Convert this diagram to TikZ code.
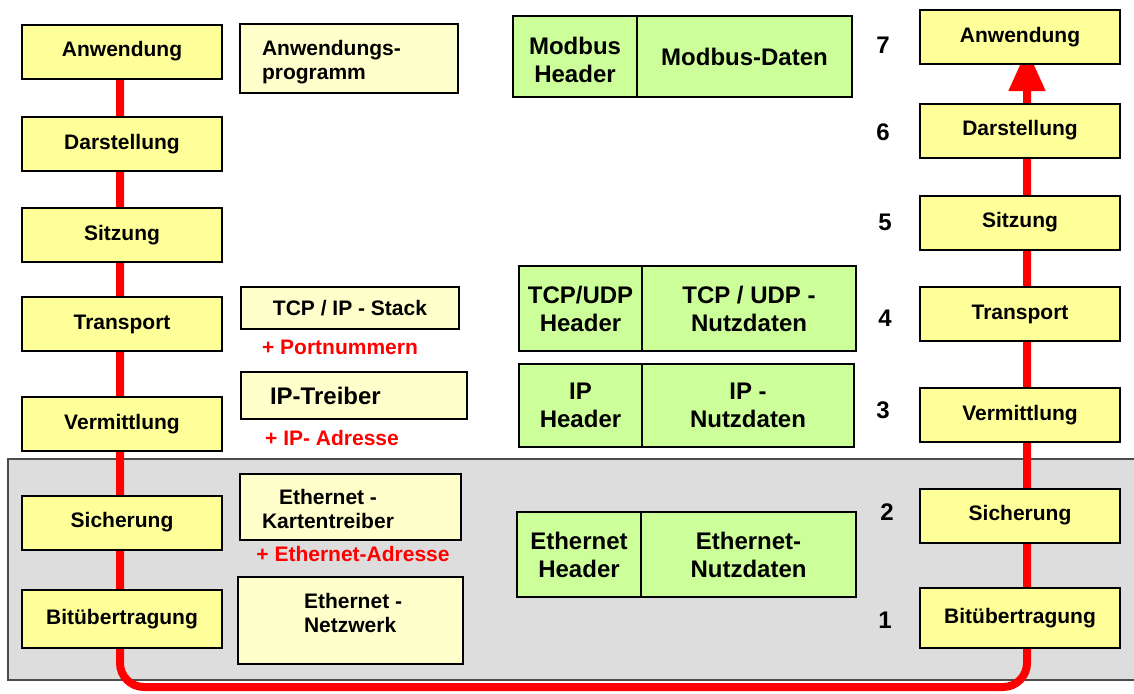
\documentclass[tikz,border=0pt]{standalone}
\usepackage{fontspec}
\setmainfont{Liberation Sans}
\usetikzlibrary{arrows.meta}

\definecolor{layeryellow}{HTML}{FFFF99}
\definecolor{progyellow}{HTML}{FFFFCC}
\definecolor{datgreen}{HTML}{CCFF99}
\definecolor{bggray}{HTML}{DDDDDD}

\pgfdeclarelayer{back}
\pgfdeclarelayer{mid}
\pgfsetlayers{back,mid,main}

\begin{document}
\begin{tikzpicture}[x=0.5pt,y=-0.5pt,
    every node/.style={align=center,font=\bfseries\fontsize{10.5}{12}\selectfont},
    layer/.style={draw,fill=layeryellow,line width=1pt,minimum width=100pt,minimum height=27pt},
    progbox/.style={draw,fill=progyellow,line width=0.9pt},
    datbox/.style={draw,fill=datgreen,line width=0.9pt},
    bigtxt/.style={font=\bfseries\fontsize{12}{14}\selectfont},
    addr/.style={text=red},
    redline/.style={draw=red,line width=4pt,rounded corners=12pt}]
             \useasboundingbox (0,0) rectangle (1134,693);
             \begin{pgfonlayer}{back}
             \draw[fill=bggray,draw=black!70,line width=0.8pt] (8,459) rectangle (1140,680);
             \end{pgfonlayer}

             \node[layer] (lanw) at (122,051.5) {Anwendung};
             \node[layer] (ldar) at (122,144.0) {Darstellung};
             \node[layer] (lsit) at (122,235.0) {Sitzung};
             \node[layer] (ltra) at (122,324.0) {Transport};
             \node[layer] (lver) at (122,424.0) {Vermittlung};
             \node[layer] (lsic) at (122,522.5) {Sicherung};
             \node[layer,minimum height=29pt] (lbit) at (122,619.0) {Bitübertragung};

             \node[layer] (ranw) at (1020,037.0) {Anwendung};
             \node[layer] (rdar) at (1020,130.5) {Darstellung};
             \node[layer] (rsit) at (1020,222.5) {Sitzung};
             \node[layer] (rtra) at (1020,314.0) {Transport};
             \node[layer] (rver) at (1020,415.0) {Vermittlung};
             \node[layer] (rsic) at (1020,515.5) {Sicherung};
             \node[layer,minimum height=30pt] (rbit) at (1020,618.0) {Bitübertragung};

             \node[bigtxt] (n7) at (883,045) {7};
             \node[bigtxt] (n6) at (883,132) {6};
             \node[bigtxt] (n5) at (885,222) {5};
             \node[bigtxt] (n4) at (885,318) {4};
             \node[bigtxt] (n3) at (883,410) {3};
             \node[bigtxt] (n2) at (887,512) {2};
             \node[bigtxt] (n1) at (885,620) {1};

             \draw[progbox] (240,024) rectangle (458,093);
             \node[anchor=west,align=left] (anwprog) at (255,062) {Anwendungs-\\programm};
             \draw[progbox] (241,287) rectangle (459,329) node[pos=0.5] (tcpstack) {TCP / IP - Stack};
             \node[addr] (port) at (340,347) {+ Portnummern};
             \draw[progbox] (241,372) rectangle (467,419);
             \node[bigtxt,anchor=west] (iptreib) at (263,396) {IP-Treiber};
             \node[addr] (ipadr) at (332,438) {+ IP- Adresse};
             \draw[progbox] (240,474) rectangle (461,540);
             \node (karte) at (328,509) {Ethernet -\\Kartentreiber};
             \node[addr] (ethadr) at (353,554) {+ Ethernet-Adresse};
             \draw[progbox] (238,577) rectangle (463,664);
             \node[anchor=west,align=left] (netz) at (297,613) {Ethernet -\\Netzwerk};

             \draw[datbox] (513,016) rectangle (637,097) node[pos=0.5,bigtxt,yshift=-1.5pt] (modhdr) {Modbus\\Header};
             \draw[datbox] (637,016) rectangle (852,097) node[pos=0.5,bigtxt] (moddat) {Modbus-Daten};
             \draw[datbox] (519,266) rectangle (642,351) node[pos=0.5,bigtxt] (tcphdr) {TCP/UDP\\Header};
             \draw[datbox] (642,266) rectangle (856,351) node[pos=0.5,bigtxt] (tcpdat) {TCP / UDP -\\Nutzdaten};
             \draw[datbox] (519,364) rectangle (642,447) node[pos=0.5,bigtxt] (iphdr) {IP\\Header};
             \draw[datbox] (642,364) rectangle (854,447) node[pos=0.5,bigtxt] (ipdat) {IP -\\Nutzdaten};
             \draw[datbox] (517,512) rectangle (641,597) node[pos=0.5,bigtxt] (ethhdr) {Ethernet\\Header};
             \draw[datbox] (641,512) rectangle (856,597) node[pos=0.5,bigtxt] (ethdat) {Ethernet-\\Nutzdaten};

             \coordinate (loop) at (0,687);
             \begin{pgfonlayer}{mid}
             \draw[redline,shorten >=-8pt,-{Triangle[width=17.5pt,length=21pt]}]
                 ([xshift=-1pt]lanw.south) -- ([xshift=-1pt]lanw.south |- loop)
                 -- ([xshift=3.5pt]ranw.south |- loop) -- ([xshift=3.5pt]ranw.south);
             \end{pgfonlayer}
         \end{tikzpicture}
\end{document}
